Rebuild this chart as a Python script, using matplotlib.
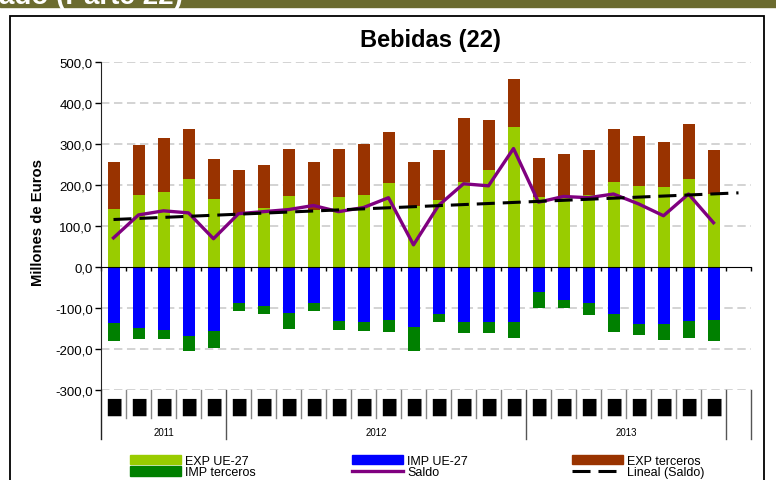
import matplotlib
matplotlib.use("Agg")
import matplotlib.pyplot as plt
import matplotlib.transforms as mtransforms
import numpy as np
from matplotlib.patches import Rectangle, Patch
from matplotlib.lines import Line2D

plt.rcParams['font.family'] = ['Liberation Sans', 'DejaVu Sans']

# datos mensuales (millones de euros), ago-2011 .. ago-2013
anios = ['2011', '2012', '2013']
meses_por_anio = [5, 12, 8]
etiquetas_mes = ['█'] * 25

exp_ue = [142, 176, 184, 215, 167, 128, 145, 174, 140, 171, 176, 205, 150,
          164, 208, 237, 342, 171, 168, 176, 208, 198, 196, 215, 179]
exp_terceros = [115, 122, 131, 122, 97, 109, 104, 115, 117, 118, 125, 125, 107,
                122, 156, 122, 117, 96, 108, 110, 129, 122, 110, 134, 107]
imp_ue = [-137, -148, -153, -168, -155, -87, -95, -112, -87, -131, -133, -129, -146,
          -114, -133, -133, -133, -60, -80, -89, -114, -138, -140, -131, -129]
imp_terceros = [-43, -27, -22, -36, -42, -20, -19, -39, -20, -22, -22, -29, -58,
                -19, -27, -27, -39, -41, -21, -29, -44, -27, -37, -41, -51]
saldo = [71, 127, 137, 132, 69, 130, 135, 140, 150, 135, 145, 169, 54,
         150, 203, 198, 289, 158, 172, 169, 178, 154, 125, 178, 108]

c_exp_ue = '#99cc00'
c_exp_t = '#993300'
c_imp_ue = '#0000ff'
c_imp_t = '#008000'
c_saldo = '#800080'

W, H = 776, 481
fig = plt.figure(figsize=(W / 100, H / 100), dpi=100)

# banda de cabecera y marco del grafico
fig.add_artist(Rectangle((0, 1 - 8 / H), 1, 8 / H, transform=fig.transFigure,
                         color='#6b6b2f', zorder=0))
fig.text(-1 / W, 1 - 4 / H, 'ado (Parte 22)', color='white', fontsize=20,
         weight='bold', va='baseline', ha='left')
fig.add_artist(Rectangle((10 / W, -0.05), 754 / W, 1 - 17 / H + 0.05,
                         transform=fig.transFigure, fill=False, ec='black', lw=1.3))

ax = fig.add_axes([101 / W, 1 - 391 / H, 650 / W, 328 / H])
n = len(exp_ue)
x = np.arange(n)
w = 0.48

ax.bar(x, exp_ue, w, color=c_exp_ue, zorder=2)
ax.bar(x, exp_terceros, w, bottom=exp_ue, color=c_exp_t, zorder=2)
ax.bar(x, imp_ue, w, color=c_imp_ue, zorder=2)
ax.bar(x, imp_terceros, w, bottom=imp_ue, color=c_imp_t, zorder=2)
ax.plot(x, saldo, color=c_saldo, lw=2.4, zorder=3)

# tendencia lineal del saldo, prolongada un periodo
coef = np.polyfit(x, saldo, 1)
xt = np.arange(n + 1)
ax.plot(xt, np.polyval(coef, xt), color='black', lw=2.2, dashes=(5.9, 2.6), zorder=4)

ax.set_xlim(-0.5, n + 0.5)
ax.set_ylim(-300, 500)
yt = np.arange(-300, 501, 100)
ax.set_yticks(yt)
ax.set_yticklabels([f'{v:.1f}'.replace('.', ',') for v in yt], fontsize=9.5)
for v in yt:
    if v != 0:
        ax.axhline(v, color='#c8c8c8', lw=1.1, dashes=(5.5, 3), zorder=1)

for s in ['top', 'right']:
    ax.spines[s].set_visible(False)
ax.spines['bottom'].set_position(('data', 0))
ax.spines['bottom'].set_zorder(5)
ax.spines['left'].set_color('#222222')
ax.set_xticks(np.arange(-0.5, n + 1, 1))
ax.set_xticklabels([])
ax.tick_params(axis='x', direction='out', length=3, width=1)
ax.tick_params(axis='y', direction='out', length=4, width=1, pad=2)

# eje de categorias de dos niveles bajo el grafico
tr = mtransforms.blended_transform_factory(ax.transData, ax.transAxes)
ax.plot([-0.5, -0.5], [0, -0.149], transform=tr, color='#222222', lw=1, clip_on=False)
limites = np.cumsum([0] + meses_por_anio) - 0.5
for b in np.arange(0.5, n + 0.5, 1):
    if b in limites:
        continue
    ax.plot([b, b], [0, -0.085], transform=tr, color='#888888', lw=1, clip_on=False)
for b in list(limites[1:]) + [n + 0.5]:
    ax.plot([b, b], [0, -0.149], transform=tr, color='#555555', lw=1, clip_on=False)
for i, lab in enumerate(etiquetas_mes):
    ax.text(i, -0.05, lab, transform=tr, ha='center', va='center', fontsize=12.5,
            family='DejaVu Sans', color='black')
for k, a in enumerate(anios):
    ax.text((limites[k] + limites[k + 1]) / 2, -0.128, a, transform=tr,
            ha='center', va='center', fontsize=7)

fig.text(430 / W, 1 - 40 / H, 'Bebidas (22)', fontsize=17, weight='bold',
         ha='center', va='center')
fig.text(38 / W, 1 - 223 / H, 'Millones de Euros', fontsize=10.7, weight='bold',
         rotation=90, ha='center', va='center')

# leyenda en tres columnas
grupos = [
    [(Patch(color=c_exp_ue), 'EXP UE-27'), (Patch(color=c_imp_t), 'IMP terceros')],
    [(Patch(color=c_imp_ue), 'IMP UE-27'), (Line2D([], [], color=c_saldo, lw=2.4), 'Saldo')],
    [(Patch(color=c_exp_t), 'EXP terceros'),
     (Line2D([], [], color='black', lw=2.2, dashes=(5.9, 2.6)), 'Lineal (Saldo)')],
]
for gx, grupo in zip([130, 352, 572], grupos):
    fig.legend([h for h, _ in grupo], [t for _, t in grupo], loc='upper left',
               bbox_to_anchor=(gx / W, 1 - 456 / H), frameon=False, fontsize=9,
               borderpad=0, borderaxespad=0, handlelength=4.1, handleheight=0.75,
               handletextpad=0.3, labelspacing=-0.05)

fig.savefig('out.png', dpi=100)
